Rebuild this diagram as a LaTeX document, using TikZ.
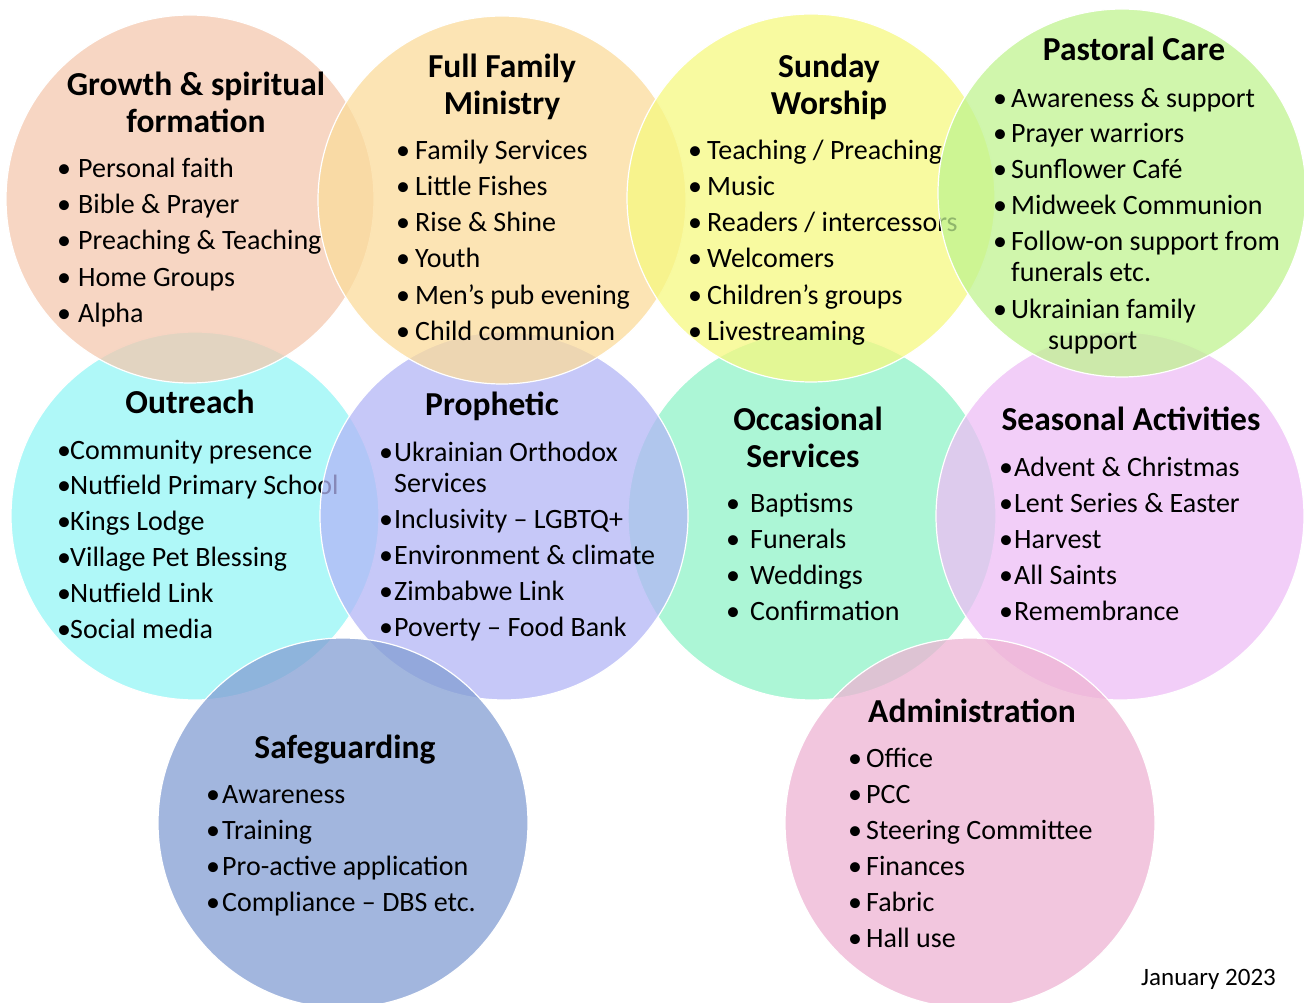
\documentclass[tikz,border=0pt]{standalone}
\usepackage{fontspec}
\setmainfont{Carlito}
\definecolor{cGro}{RGB}{244,200,175}
\definecolor{cFam}{RGB}{251,219,155}
\definecolor{cSun}{RGB}{246,248,128}
\definecolor{cPas}{RGB}{192,243,144}
\definecolor{cOut}{RGB}{148,246,246}
\definecolor{cPro}{RGB}{179,182,246}
\definecolor{cOcc}{RGB}{144,243,200}
\definecolor{cSea}{RGB}{238,190,246}
\definecolor{cSaf}{RGB}{131,158,211}
\definecolor{cAdm}{RGB}{238,179,211}
\newcommand\bul[1]{\makebox[#1][l]{•}}
\begin{document}
\begin{tikzpicture}[x=1pt,y=-1pt,
  blob/.style={draw=white, line width=1.2pt, fill opacity=0.75},
  head/.style={font=\fontsize{33.5}{37}\selectfont\bfseries, anchor=base, inner sep=0pt},
  item/.style={font=\fontsize{28}{34}\selectfont, anchor=base west, inner sep=0pt},
]
\useasboundingbox (0,0) rectangle (1304,1003);

% ---------- row 2 ----------
% Outreach
\path[blob, fill=cOut] (195,516) circle[radius=184pt];
\node[head] (outH) at (190,413) {Outreach};
\foreach \yy/\t [count=\i] in {459/{Community presence}, 494/{Nutfield Primary School}, 530/{Kings Lodge}, 566/{Village Pet Blessing}, 602/{Nutfield Link}, 638/{Social media}}
  \node[item] (out-\i) at (57,\yy) {\bul{13pt}\t};
% Occasional
\path[blob, fill=cOcc] (812,516) circle[radius=184pt];
\node[head] (occH1) at (808,430) {Occasional};
\node[head] (occH2) at (803,467) {Services};
\foreach \yy/\t [count=\i] in {512/{Baptisms}, 548/{Funerals}, 584/{Weddings}, 620/{Confirmation}}
  \node[item] (occ-\i) at (726,\yy) {\bul{24pt}\t};
% Prophetic
\path[blob, fill=cPro] (504,516) circle[radius=184pt];
\node[head] (proH) at (492,415) {Prophetic};
\foreach \yy/\t [count=\i] in {461/{Ukrainian Orthodox}, 528/{Inclusivity – LGBTQ+}, 564/{Environment \& climate}, 600/{Zimbabwe Link}, 636/{Poverty – Food Bank}}
  \node[item] (pro-\i) at (379,\yy) {\bul{15pt}\t};
\node[item] (pro-s) at (394,492) {Services};
% Seasonal
\path[blob, fill=cSea] (1120,516) circle[radius=184pt];
\node[head] (seaH) at (1131,430) {Seasonal Activities};
\foreach \yy/\t [count=\i] in {476/{Advent \& Christmas}, 512/{Lent Series \& Easter}, 548/{Harvest}, 584/{All Saints}, 620/{Remembrance}}
  \node[item] (sea-\i) at (999,\yy) {\bul{15pt}\t};

% ---------- row 1 ----------
% Growth
\path[blob, fill=cGro] (190,199) circle[radius=184pt];
\node[head] (groH1) at (196,96) {Growth \& spiritual};
\node[head] (groH2) at (196,133) {formation};
\foreach \yy/\t [count=\i] in {178/{Personal faith}, 214/{Bible \& Prayer}, 250/{Preaching \& Teaching}, 286/{Home Groups}, 322/{Alpha}}
  \node[item] (gro-\i) at (57,\yy) {\bul{21pt}\t};
% Full Family
\path[blob, fill=cFam] (502,200) circle[radius=184pt];
\node[head] (famH1) at (502,78) {Full Family};
\node[head] (famH2) at (502,115) {Ministry};
\foreach \yy/\t [count=\i] in {160/{Family Services}, 196/{Little Fishes}, 232/{Rise \& Shine}, 268/{Youth}, 304/{Men’s pub evening}, 340/{Child communion}}
  \node[item] (fam-\i) at (396,\yy) {\bul{19pt}\t};
% Sunday
\path[blob, fill=cSun] (811,198) circle[radius=184pt];
\node[head] (sunH1) at (829,78) {Sunday};
\node[head] (sunH2) at (829,115) {Worship};
\foreach \yy/\t [count=\i] in {160/{Teaching / Preaching}, 196/{Music}, 232/{Readers / intercessors}, 268/{Welcomers}, 304/{Children’s groups}, 340/{Livestreaming}}
  \node[item] (sun-\i) at (688,\yy) {\bul{19pt}\t};
% Pastoral
\path[blob, fill=cPas] (1122,193) circle[radius=184pt];
\node[head] (pasH) at (1134,61) {Pastoral Care};
\foreach \yy/\t [count=\i] in {108/{Awareness \& support}, 143/{Prayer warriors}, 179/{Sunflower Café}, 215/{Midweek Communion}, 251/{Follow-on support from}, 318/{Ukrainian family}}
  \node[item] (pas-\i) at (993,\yy) {\bul{18pt}\t};
\node[item] (pas-f) at (1011,281) {funerals etc.};
\node[item] (pas-s) at (1048,349) {support};

% ---------- row 3 ----------
% Safeguarding
\path[blob, fill=cSaf] (343,823) circle[radius=185pt];
\node[head] (safH) at (345,758) {Safeguarding};
\foreach \yy/\t [count=\i] in {803/{Awareness}, 839/{Training}, 875/{Pro-active application}, 911/{Compliance – DBS etc.}}
  \node[item] (saf-\i) at (206,\yy) {\bul{16pt}\t};
% Administration
\path[blob, fill=cAdm] (970,823) circle[radius=185pt];
\node[head] (admH) at (972,722) {Administration};
\foreach \yy/\t [count=\i] in {767/{Office}, 803/{PCC}, 839/{Steering Committee}, 875/{Finances}, 911/{Fabric}, 947/{Hall use}}
  \node[item] (adm-\i) at (848,\yy) {\bul{18pt}\t};

\node[item, font=\fontsize{25}{30}\selectfont] (date) at (1141,985) {January 2023};
\end{tikzpicture}
\end{document}
